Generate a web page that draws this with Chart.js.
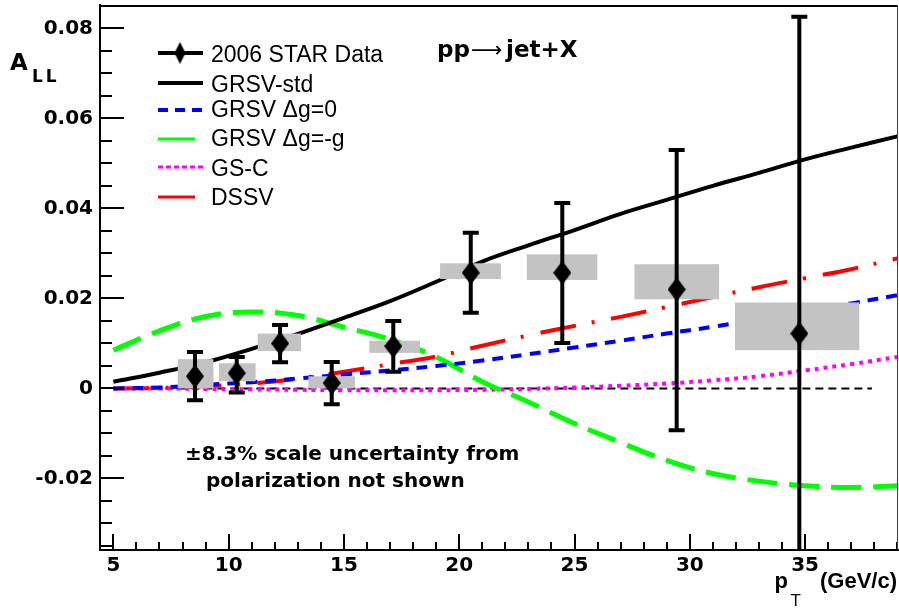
<!DOCTYPE html>
<html>
<head>
<meta charset="utf-8">
<script src="https://cdn.jsdelivr.net/npm/chart.js@4.4.1/dist/chart.umd.min.js"></script>
<style>
  html, body { margin: 0; padding: 0; background: #fff; }
  canvas { display: block; }
</style>
</head>
<body>
<canvas id="chart" width="899" height="612"></canvas>
<script>
// STAR 2006 inclusive jet A_LL vs pT, with model curves

// measured points
const ptVals   = [8.54, 10.35, 12.23, 14.47, 17.14, 20.5, 24.47, 29.43, 34.75];
const allVals  = [0.0027, 0.0034, 0.0100, 0.0012, 0.0094, 0.0257, 0.0257, 0.0220, 0.0122];
const statLow  = [-0.0026, -0.0009, 0.0058, -0.0035, 0.0037, 0.0168, 0.0101, -0.0093, -0.0582];
const statHigh = [0.0081, 0.0070, 0.0141, 0.0059, 0.0150, 0.0346, 0.0412, 0.0530, 0.0826];

// systematic boxes
const sysPtLow  = [7.79, 9.58, 11.26, 13.46, 16.10, 19.17, 22.93, 27.60, 31.96];
const sysPtHigh = [9.34, 11.17, 13.14, 15.48, 18.30, 21.81, 25.99, 31.27, 37.35];
const sysLow    = [0.0000, 0.0016, 0.0083, 0.0000, 0.0079, 0.0243, 0.0241, 0.0198, 0.0085];
const sysHigh   = [0.0065, 0.0056, 0.0122, 0.0027, 0.0106, 0.0278, 0.0298, 0.0276, 0.0191];

// theory curves
const curvePt = [5, 7, 9, 11, 13, 15, 17, 19, 21, 23, 25, 27, 29, 31, 33, 35, 37, 39];
const grsvStd = [0.0015, 0.0035, 0.0058, 0.0088, 0.0121, 0.0157, 0.0194, 0.0237, 0.0282, 0.0318, 0.0352, 0.0388, 0.0419, 0.0450, 0.0479, 0.0509, 0.0535, 0.0560];
const grsvZero = [0.0000, 0.0002, 0.0008, 0.0014, 0.0022, 0.0031, 0.0040, 0.0050, 0.0062, 0.0076, 0.0091, 0.0106, 0.0122, 0.0137, 0.0154, 0.0171, 0.0189, 0.0207];
const grsvMinus = [0.0085, 0.0128, 0.0160, 0.0170, 0.0162, 0.0136, 0.0109, 0.0070, 0.0015, -0.0030, -0.0078, -0.0120, -0.0160, -0.0189, -0.0206, -0.0216, -0.0220, -0.0216];
const gsc = [0.0000, 0.0000, -0.0001, -0.0002, -0.0003, -0.0004, -0.0004, -0.0004, -0.0003, -0.0001, 0.0002, 0.0006, 0.0011, 0.0018, 0.0027, 0.0040, 0.0054, 0.0070];
const dssv = [0.0000, 0.0001, 0.0005, 0.0011, 0.0022, 0.0037, 0.0054, 0.0071, 0.0095, 0.0118, 0.0139, 0.0159, 0.0181, 0.0203, 0.0225, 0.0245, 0.0265, 0.0289];
const zeroPt = [5, 37.9];

// axes
const xTicks = [5, 10, 15, 20, 25, 30, 35];
const yTicks = [-0.02, 0, 0.02, 0.04, 0.06, 0.08];

const pts = (xs, ys) => xs.map((x, i) => ({ x: x, y: ys[i] }));

function diamond(w, h) {
    const c = document.createElement('canvas');
    c.width = w; c.height = h;
    const g = c.getContext('2d');
    g.fillStyle = '#000';
    g.beginPath();
    g.moveTo(w / 2, 0); g.lineTo(w, h / 2); g.lineTo(w / 2, h); g.lineTo(0, h / 2);
    g.closePath();
    g.fill();
    return c;
}
const bigDiamond = diamond(18, 24);
const smallDiamond = diamond(11, 22);

const curve = (label, data, color, width, dash) => ({
    type: 'line',
    label: label,
    data: pts(curvePt, data),
    borderColor: color,
    borderWidth: width,
    borderDash: dash,
    borderCapStyle: 'butt',
    pointRadius: 0,
    tension: 0.4,
    fill: false
});

// boxes and error bars go between the curves and the markers
const errorBoxes = {
    id: 'errorBoxes',
    beforeDatasetDraw(chart, args) {
        if (args.index !== 0) return;
        const { ctx, chartArea: a, scales: { x, y } } = chart;
        ctx.save();
        ctx.beginPath();
        ctx.rect(a.left, a.top, a.width, a.height);
        ctx.clip();
        ctx.fillStyle = '#c3c3c3';
        for (let i = 0; i < ptVals.length; i++) {
            const x0 = x.getPixelForValue(sysPtLow[i]), x1 = x.getPixelForValue(sysPtHigh[i]);
            const y0 = y.getPixelForValue(sysHigh[i]), y1 = y.getPixelForValue(sysLow[i]);
            ctx.fillRect(x0, y0, x1 - x0, y1 - y0);
        }
        ctx.strokeStyle = '#000';
        ctx.lineWidth = 4;
        for (let i = 0; i < ptVals.length; i++) {
            const px = x.getPixelForValue(ptVals[i]);
            const yt = y.getPixelForValue(statHigh[i]), yb = y.getPixelForValue(statLow[i]);
            ctx.beginPath();
            ctx.moveTo(px, yt); ctx.lineTo(px, yb);
            ctx.moveTo(px - 8, yt); ctx.lineTo(px + 8, yt);
            ctx.moveTo(px - 8, yb); ctx.lineTo(px + 8, yb);
            ctx.stroke();
        }
        ctx.restore();
    }
};

// ROOT style frame: ticks inside, major + minor
const frame = {
    id: 'frame',
    afterDraw(chart) {
        const { ctx, chartArea: a, scales: { x, y } } = chart;
        ctx.save();
        ctx.strokeStyle = '#000';
        ctx.lineWidth = 2;
        ctx.beginPath();
        for (let v = 5; v <= 39; v++) {
            const px = Math.round(x.getPixelForValue(v));
            const len = v % 5 === 0 ? 16 : 8;
            ctx.moveTo(px, a.bottom); ctx.lineTo(px, a.bottom - len);
        }
        for (let k = -7; k <= 17; k++) {
            const py = Math.round(y.getPixelForValue(k * 0.005));
            const len = k % 4 === 0 ? 24 : 12;
            ctx.moveTo(a.left, py); ctx.lineTo(a.left + len, py);
        }
        ctx.moveTo(a.left, a.top + 1); ctx.lineTo(a.right, a.top + 1);
        ctx.stroke();
        ctx.lineWidth = 1;
        ctx.strokeStyle = '#444';
        ctx.beginPath();
        ctx.moveTo(a.right - 0.5, a.top); ctx.lineTo(a.right - 0.5, a.bottom);
        ctx.stroke();
        ctx.restore();
    }
};

// legend box at top left, like the ROOT TLegend
const legendStyle = [
    { line: '#000', width: 4, dash: [], end: 203, marker: true },
    { line: '#000', width: 4, dash: [], end: 203 },
    { line: '#0000ff', width: 4, dash: [10, 7], end: 203 },
    { line: '#00ff00', width: 3, dash: [], end: 195 },
    { line: '#ff00ff', width: 3, dash: [5, 3], end: 203 },
    { line: '#ff0000', width: 3, dash: [], end: 195 }
];
const legendLineY = [53, 83, 110, 139, 167, 197];
const legendTextY = [62, 92, 117, 146, 176, 205];

const texts = {
    id: 'texts',
    afterDraw(chart) {
        const { ctx } = chart;
        ctx.save();
        ctx.fillStyle = '#000';
        ctx.textBaseline = 'alphabetic';
        // legend
        chart.data.datasets.slice(0, 6).forEach((ds, i) => {
            const s = legendStyle[i];
            ctx.strokeStyle = s.line;
            ctx.lineWidth = s.width;
            ctx.setLineDash(s.dash);
            ctx.beginPath();
            ctx.moveTo(158, legendLineY[i]); ctx.lineTo(s.end, legendLineY[i]);
            ctx.stroke();
            if (s.marker) ctx.drawImage(smallDiamond, 180 - 5.5, legendLineY[i] - 11);
            ctx.font = '23px "Liberation Sans", Arial, sans-serif';
            ctx.fillText(ds.label, 211, legendTextY[i]);
        });
        ctx.setLineDash([]);

        // process label
        ctx.font = 'bold 23px "DejaVu Sans", sans-serif';
        ctx.fillText('pp', 437, 57);
        ctx.font = '22px "DejaVu Sans", sans-serif';
        ctx.fillText('\u27F6', 471, 57);
        ctx.font = 'bold 23px "DejaVu Sans", sans-serif';
        ctx.fillText('jet+X', 506, 57);

        // scale note
        ctx.font = 'bold 20px "DejaVu Sans", sans-serif';
        ctx.fillText('\u00B18.3% scale uncertainty from', 185, 460);
        ctx.fillText('polarization not shown', 206, 487);

        // y title
        ctx.font = 'bold 23px "DejaVu Sans", sans-serif';
        ctx.fillText('A', 10, 70);
        ctx.font = 'bold 17px "DejaVu Sans", sans-serif';
        ctx.letterSpacing = '3px';
        ctx.fillText('LL', 32, 82);
        ctx.letterSpacing = '0px';

        // x title
        ctx.textAlign = 'right';
        ctx.font = 'bold 22px "Liberation Sans", Arial, sans-serif';
        ctx.fillText('(GeV/c)', 897, 588);
        ctx.font = '17px "Liberation Sans", Arial, sans-serif';
        ctx.fillText('T', 801, 606);
        ctx.font = 'bold 22px "Liberation Sans", Arial, sans-serif';
        ctx.fillText('p', 788, 588);
        ctx.restore();
    }
};

const tickFont = { family: '"DejaVu Sans", sans-serif', size: 20, weight: 'bold' };

// keep the plot frame fixed: no extra padding for edge labels
const noPad = s => { s.paddingLeft = 0; s.paddingRight = 0; s.paddingTop = 0; s.paddingBottom = 0; };

new Chart(document.getElementById('chart'), {
    type: 'scatter',
    data: {
        datasets: [
            {
                type: 'scatter',
                label: '2006 STAR Data',
                data: pts(ptVals, allVals),
                pointStyle: bigDiamond,
                pointRadius: 10,
                showLine: false
            },
            curve('GRSV-std', grsvStd, '#000000', 4, []),
            curve('GRSV \u0394g=0', grsvZero, '#0000ff', 4, [11, 8]),
            curve('GRSV \u0394g=-g', grsvMinus, '#00ff00', 5, [30, 12]),
            curve('GS-C', gsc, '#ff00ff', 4, [4, 5]),
            curve('DSSV', dssv, '#ff0000', 4, [36, 16, 3, 17]),
            {
                type: 'line',
                label: 'zero',
                data: pts(zeroPt, [0, 0]),
                borderColor: '#000',
                borderWidth: 2,
                borderDash: [8, 5],
                pointRadius: 0
            }
        ]
    },
    options: {
        responsive: false,
        animation: false,
        layout: { autoPadding: false, padding: { top: 5, right: 1, left: 0, bottom: 0 } },
        plugins: { legend: { display: false }, tooltip: { enabled: false } },
        scales: {
            x: {
                type: 'linear',
                min: 4.42,
                max: 39.03,
                grid: { display: false, drawTicks: false },
                border: { display: true, color: '#000', width: 2 },
                afterBuildTicks: s => { s.ticks = xTicks.map(v => ({ value: v })); },
                afterFit: s => { s.height = 62; noPad(s); },
                ticks: { color: '#000', font: tickFont, padding: 4, maxRotation: 0, callback: v => String(v) }
            },
            y: {
                type: 'linear',
                min: -0.0359,
                max: 0.0852,
                grid: { display: false, drawTicks: false },
                border: { display: true, color: '#000', width: 2 },
                afterBuildTicks: s => { s.ticks = yTicks.map(v => ({ value: v })); },
                afterFit: s => { s.width = 100; noPad(s); },
                ticks: { color: '#000', font: tickFont, padding: 7, callback: v => (v === 0 ? '0' : v.toFixed(2)) }
            }
        }
    },
    plugins: [errorBoxes, frame, texts]
});
</script>
</body>
</html>
